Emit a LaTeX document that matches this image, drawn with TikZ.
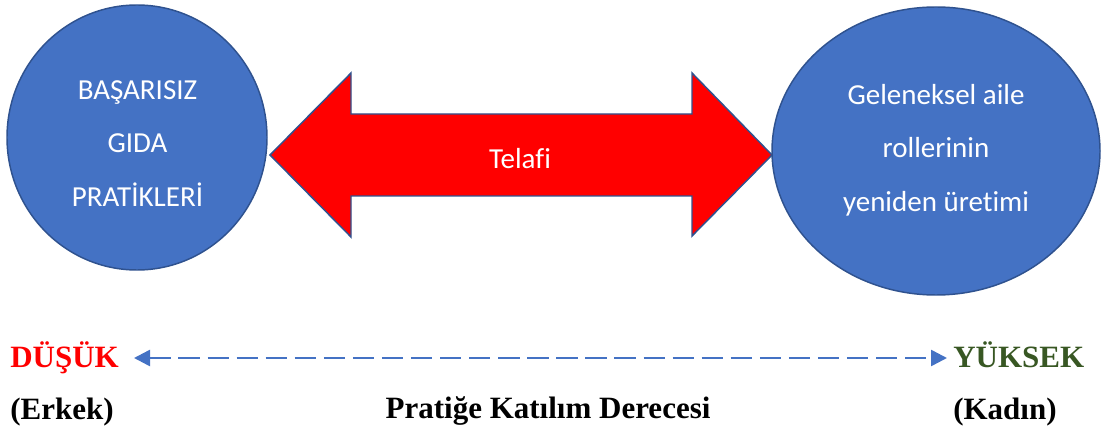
\documentclass[tikz,border=0pt]{standalone}
\usepackage{fontspec}
\setmainfont{Liberation Serif}
\newfontfamily\calibrifont[Ligatures={NoCommon,NoRequired,NoContextual}]{Carlito}
\usetikzlibrary{shapes.geometric,arrows.meta}
\definecolor{accblue}{HTML}{4472C4}
\definecolor{edgeblue}{HTML}{2F528F}
\definecolor{darkgreen}{HTML}{385723}
\tikzset{
  blob/.style={ellipse, draw=edgeblue, fill=accblue, line width=1.1pt, inner sep=0pt},
  intext/.style={anchor=base, text=white, font=\calibrifont\fontsize{21.75}{26}\selectfont, inner sep=0pt},
  scaletext/.style={anchor=base, inner sep=0pt, font=\bfseries\fontsize{23.25}{28}\selectfont},
  scaleline/.style={draw=accblue, line width=1.9pt, dash pattern=on 16pt off 5.8pt,
     {Triangle[length=12pt,width=12pt]}-{Triangle[length=12pt,width=12pt]}}
}
\begin{document}
\begin{tikzpicture}[x=0.75pt,y=-0.75pt]
\useasboundingbox (0,0) rectangle (1105,434);
% circles
\node[blob, minimum width=195pt, minimum height=198.75pt] (left) at (137,137.5) {};
\node[blob, minimum width=246pt, minimum height=216pt] (right) at (936,151) {};
\node[intext] (l1) at (137.5,100) {BAŞARISIZ};
\node[intext] (l2) at (137.5,153) {GIDA};
\node[intext] (l3) at (137.5,207) {PRATİKLERİ};
\node[intext] (r1) at (936,105) {Geleneksel aile};
\node[intext] (r2) at (936,158) {rollerinin};
\node[intext] (r3) at (936,212) {yeniden üretimi};
% double arrow
\draw[draw=edgeblue, fill=red, line width=1.1pt, line join=miter]
  (270,155) -- (351,73) -- (351,114) -- (692,114) -- (692,73) -- (772,155)
  -- (692,236) -- (692,196) -- (351,196) -- (351,237) -- cycle;
\node[intext] (telafi) at (520,169) {Telafi};
% scale
\node[scaletext, text=red, anchor=base west] (low) at (10,367) {DÜŞÜK};
\node[scaletext, text=darkgreen, anchor=base west] (high) at (953,367.5) {YÜKSEK};
\coordinate (lowtip) at (134,358);
\coordinate (hightip) at (947,358);
\draw[scaleline] (lowtip) -- (hightip);
\node[scaletext, anchor=base west] (erkek) at (10,419) {(Erkek)};
\node[scaletext] (title) at (548,418) {Pratiğe Katılım Derecesi};
\node[scaletext, anchor=base west] (kadin) at (953,419) {(Kadın)};
\end{tikzpicture}
\end{document}
